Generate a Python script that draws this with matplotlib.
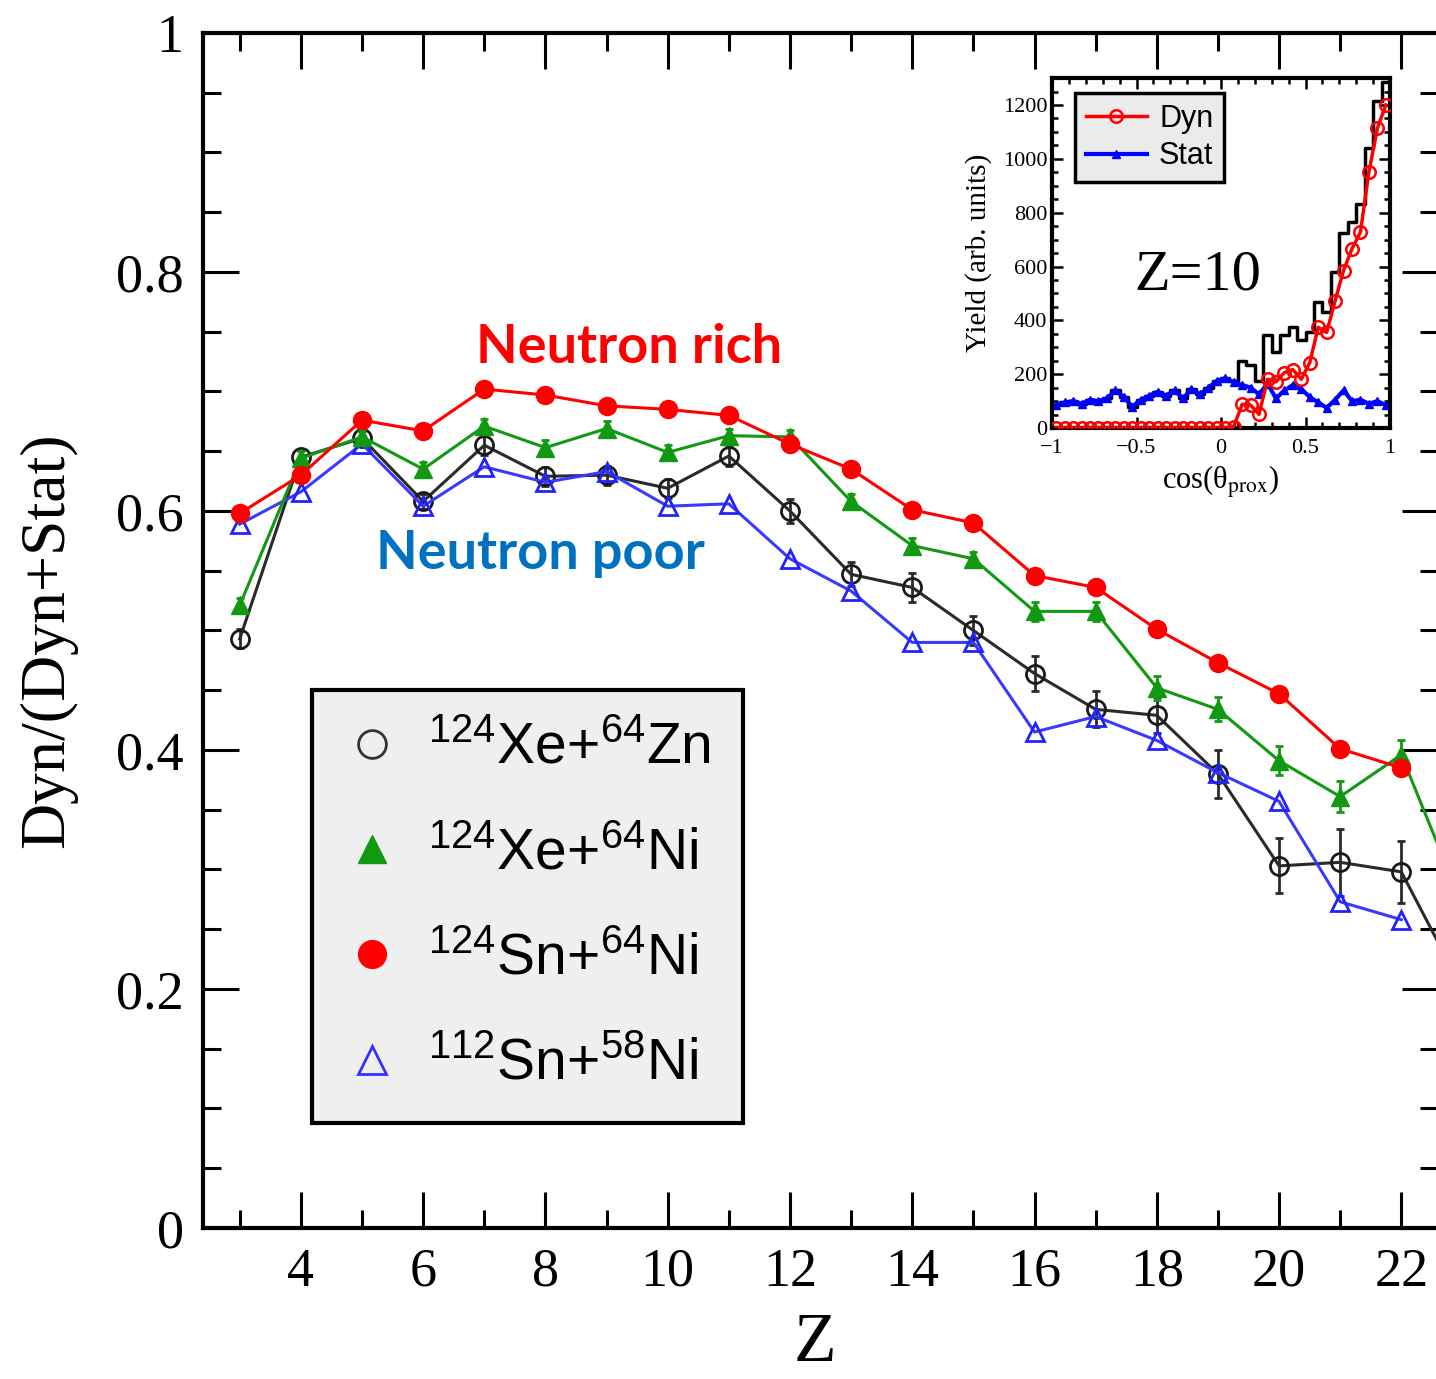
import numpy as np
import matplotlib
matplotlib.use("Agg")
import matplotlib.pyplot as plt
from matplotlib.lines import Line2D
from matplotlib.font_manager import FontProperties

plt.rcParams['mathtext.fontset'] = 'custom'
plt.rcParams['mathtext.rm'] = 'Liberation Sans'
plt.rcParams['mathtext.it'] = 'Liberation Sans:italic'
plt.rcParams['mathtext.bf'] = 'Liberation Sans:bold'
plt.rcParams['font.family'] = 'Liberation Serif'

# ----- Dyn/(Dyn+Stat) vs Z -----
z_long = [3, 4, 5, 6, 7, 8, 9, 10, 11, 12, 13, 14, 15, 16, 17, 18, 19, 20, 21, 22, 23]
z_short = [3, 4, 5, 6, 7, 8, 9, 10, 11, 12, 13, 14, 15, 16, 17, 18, 19, 20, 21, 22]

xe_zn = [0.493, 0.645, 0.661, 0.608, 0.655, 0.629, 0.630, 0.619, 0.646, 0.600,
         0.547, 0.536, 0.500, 0.464, 0.434, 0.429, 0.380, 0.303, 0.306, 0.298, 0.20]
xe_zn_err = [0.008, 0.006, 0.006, 0.006, 0.008, 0.008, 0.008, 0.008, 0.008, 0.010,
             0.010, 0.012, 0.012, 0.015, 0.015, 0.015, 0.020, 0.023, 0.028, 0.026, 0.030]

xe_ni = [0.521, 0.644, 0.662, 0.635, 0.671, 0.653, 0.669, 0.649, 0.663, 0.662,
         0.608, 0.571, 0.560, 0.516, 0.516, 0.452, 0.434, 0.391, 0.361, 0.396, 0.27]
xe_ni_err = [0.006, 0.006, 0.006, 0.006, 0.006, 0.006, 0.006, 0.006, 0.006, 0.006,
             0.006, 0.006, 0.006, 0.008, 0.008, 0.010, 0.010, 0.012, 0.013, 0.012, 0.014]

sn124_ni64 = [0.598, 0.630, 0.676, 0.667, 0.702, 0.697, 0.688, 0.685, 0.680, 0.656,
              0.635, 0.601, 0.590, 0.546, 0.536, 0.501, 0.473, 0.447, 0.401, 0.385]

sn112_ni58 = [0.589, 0.616, 0.656, 0.604, 0.637, 0.624, 0.633, 0.604, 0.606, 0.560,
              0.533, 0.490, 0.490, 0.415, 0.428, 0.408, 0.381, 0.357, 0.273, 0.258]

legend_labels = [r'$^{124}$Xe+$^{64}$Zn', r'$^{124}$Xe+$^{64}$Ni',
                 r'$^{124}$Sn+$^{64}$Ni', r'$^{112}$Sn+$^{58}$Ni']

# ----- Inset: Z=10 angular distribution -----
cos_centers = [-0.975, -0.925, -0.875, -0.825, -0.775, -0.725, -0.675, -0.625, -0.575, -0.525,
               -0.475, -0.425, -0.375, -0.325, -0.275, -0.225, -0.175, -0.125, -0.075, -0.025,
               0.025, 0.075, 0.125, 0.175, 0.225, 0.275, 0.325, 0.375, 0.425, 0.475,
               0.525, 0.575, 0.625, 0.675, 0.725, 0.775, 0.825, 0.875, 0.925, 0.975]
dyn_yield = [0, 0, 0, 0, 0, 0, 0, 0, 0, 0,
             0, 0, 0, 0, 0, 0, 0, 0, 0, 0,
             0, 5, 88, 85, 51, 181, 172, 206, 217, 181,
             243, 374, 355, 473, 585, 666, 728, 952, 1113, 1200]
stat_yield = [85, 95, 100, 90, 105, 100, 110, 140, 115, 80,
              105, 120, 135, 120, 140, 110, 145, 125, 150, 175,
              185, 170, 160, 150, 125, 165, 110, 140, 160, 145,
              115, 95, 75, 105, 140, 100, 105, 90, 100, 85]
total_yield = np.array(dyn_yield) + np.array(stat_yield)

fig = plt.figure(figsize=(14.36, 13.79), dpi=100)
ax = fig.add_axes([0.1414, 0.1095, 0.8600, 0.8666])

ax.errorbar(z_long, xe_zn, yerr=xe_zn_err, color='#2a2a2a', lw=2.2, marker='o', ms=13,
            mfc='none', mec='#1a1a1a', mew=2, capsize=3, capthick=2, elinewidth=2, zorder=2)
ax.plot(z_short, sn112_ni58, color='#3a3aff', lw=2.2, marker='^', ms=13,
        mfc='none', mec='#2222ff', mew=2, zorder=3)
ax.errorbar(z_long, xe_ni, yerr=xe_ni_err, color='#119911', lw=2.2, marker='^', ms=13,
            mfc='#119911', mec='#119911', capsize=3, capthick=2, elinewidth=2, zorder=4)
ax.plot(z_short, sn124_ni64, color='#ff0000', lw=2.2, marker='o', ms=13,
        mfc='#ff0000', mec='#ff0000', zorder=5)

ax.set_xlim(2.4, 22.6)
ax.set_ylim(0, 1)
ax.set_xticks(np.arange(4, 23, 2))
ax.set_xticks(np.arange(3, 23, 1), minor=True)
ax.set_yticks(np.arange(0, 1.01, 0.2))
ax.set_yticks(np.arange(0, 1.01, 0.05), minor=True)
ax.set_yticklabels(['0', '0.2', '0.4', '0.6', '0.8', '1'])
ax.tick_params(which='both', direction='in', top=True, right=True, width=2.2,
               labelsize=39)
ax.tick_params(which='major', length=26)
ax.tick_params(which='minor', length=13)
ax.tick_params(axis='x', pad=14)
ax.tick_params(axis='y', pad=14)
for sp in ax.spines.values():
    sp.set_linewidth(3)

ax.set_xlabel('Z', fontsize=50, va='center')
ax.xaxis.set_label_coords(0.4955, -0.097)
ax.set_ylabel('Dyn/(Dyn+Stat)', fontsize=46, va='center')
ax.yaxis.set_label_coords(-0.1255, 0.492)

ax.text(0.345, 0.737, 'Neutron rich', transform=ax.transAxes, color='#ff0000',
        fontsize=39, fontweight='bold', family='Lato', ha='center', va='center')
ax.text(0.273, 0.564, 'Neutron poor', transform=ax.transAxes, color='#0070c0',
        fontsize=39, fontweight='bold', family='Lato', ha='center', va='center')

handles = [
    Line2D([], [], ls='none', marker='o', ms=20, mfc='none', mec='#333333', mew=2),
    Line2D([], [], ls='none', marker='^', ms=20, mfc='#119911', mec='#119911'),
    Line2D([], [], ls='none', marker='o', ms=20, mfc='#ff0000', mec='#ff0000'),
    Line2D([], [], ls='none', marker='^', ms=20, mfc='none', mec='#3333ff', mew=2),
]
leg = ax.legend(handles, legend_labels, loc='lower left', bbox_to_anchor=(0.088, 0.088),
                borderaxespad=0, frameon=True, fancybox=False, framealpha=1,
                facecolor='#efefef', edgecolor='black', handlelength=1.0,
                handletextpad=0.5, labelspacing=0.9, borderpad=0.55,
                prop=FontProperties(family='Liberation Sans', size=41, math_fontfamily='custom'))
leg.get_frame().set_linewidth(3)

# ----- Inset -----
ins = fig.add_axes([0.7326, 0.6896, 0.2354, 0.2538])
ins.step(cos_centers, total_yield, where='mid', color='black', lw=2.5, zorder=1)
ins.plot(cos_centers, stat_yield, color='#0000ff', lw=3, marker='^', ms=6,
         mfc='#0000ff', mec='#0000ff', zorder=2)
ins.plot(cos_centers, dyn_yield, color='#ff0000', lw=2.5, marker='o', ms=9,
         mfc='none', mec='#ff0000', mew=1.8, zorder=3)
ins.set_xlim(-1, 1)
ins.set_ylim(0, 1300)
ins.set_xticks([-1, -0.5, 0, 0.5, 1])
ins.set_xticklabels(['\u22121', '\u22120.5', '0', '0.5', '1'])
ins.set_xticks(np.arange(-1, 1.01, 0.1), minor=True)
ins.set_yticks(np.arange(0, 1201, 200))
ins.set_yticks(np.arange(0, 1301, 50), minor=True)
ins.tick_params(which='both', direction='in', top=True, right=True, width=1.8, labelsize=16)
ins.tick_params(which='major', length=8)
ins.tick_params(which='minor', length=4)
ins.tick_params(axis='x', pad=8)
for sp in ins.spines.values():
    sp.set_linewidth(3)
ins.set_xlabel('cos(\u03b8$_{\\mathrm{prox}}$)', fontsize=22, math_fontfamily='stix', labelpad=4)
ins.set_ylabel('Yield (arb. units)', fontsize=21, labelpad=8)
ins.text(0.43, 0.437, 'Z=10', transform=ins.transAxes, fontsize=42, ha='center', va='center')
ins_handles = [
    Line2D([], [], color='#ff0000', lw=2.5, marker='o', ms=9, mfc='none', mec='#ff0000', mew=1.8),
    Line2D([], [], color='#0000ff', lw=3, marker='^', ms=6, mfc='#0000ff'),
]
ileg = ins.legend(ins_handles, ['Dyn', 'Stat'], loc='upper left', bbox_to_anchor=(0.068, 0.957),
                  borderaxespad=0, frameon=True, fancybox=False, framealpha=1,
                  facecolor='#ebebeb', edgecolor='black', handlelength=2.0,
                  handletextpad=0.4, labelspacing=0.25, borderpad=0.35,
                  prop=FontProperties(family='Liberation Sans', size=22))
ileg.get_frame().set_linewidth(2.5)

fig.savefig('out.png', dpi=100)
